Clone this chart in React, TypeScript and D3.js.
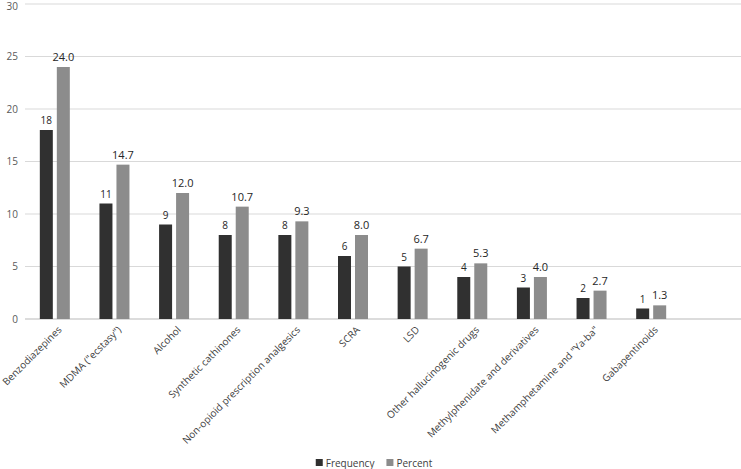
import {useEffect, useRef} from "react";
import * as d3 from "d3";

const categories = [
    "Benzodiazepines", "MDMA (\"ecstasy\")", "Alcohol", "Synthetic cathinones",
    "Non-opioid prescription analgesics", "SCRA", "LSD", "Other hallucinogenic drugs",
    "Methylphenidate and derivatives", "Methamphetamine and \"Ya-ba\"", "Gabapentinoids"
];
const frequency = [18, 11, 9, 8, 8, 6, 5, 4, 3, 2, 1];
const percent = [24.0, 14.7, 12.0, 10.7, 9.3, 8.0, 6.7, 5.3, 4.0, 2.7, 1.3];
const yTicks = [0, 5, 10, 15, 20, 25, 30];
const seriesNames = ["Frequency", "Percent"];
const colors = ["#303030", "#8c8c8c"];

export default function App() {
    const svgRef = useRef<SVGSVGElement>(null);

    useEffect(() => {
        if (!svgRef.current) return;
        const svg = d3.select(svgRef.current);
        svg.selectAll("*").remove();

        const width = 741;
        const font = "'Open Sans', sans-serif";

        const x = d3.scaleBand<string>()
            .domain(categories)
            .range([25, 681])
            .paddingInner(0)
            .paddingOuter(0);
        const y = d3.scaleLinear().domain([0, 30]).range([319, 4]);

        // gridlines
        svg.append("g")
            .selectAll("line")
            .data(yTicks)
            .join("line")
            .attr("x1", 25)
            .attr("x2", width)
            .attr("y1", d => y(d))
            .attr("y2", d => y(d))
            .attr("stroke", d => d === 0 ? "#d0d0d0" : "#d9d9d9")
            .attr("stroke-width", d => d === 0 ? 1.5 : 1);

        // y labels
        svg.append("g")
            .selectAll("text")
            .data(yTicks)
            .join("text")
            .attr("x", 18)
            .attr("y", d => Math.max(y(d), 6))
            .attr("dy", "0.35em")
            .attr("text-anchor", "end")
            .style("font-family", font)
            .style("font-size", "10px")
            .style("fill", "#595959")
            .text(d => d);

        const barW = 13;
        const gap = 4;
        const series = [frequency, percent];

        series.forEach((vals, s) => {
            const g = svg.append("g");
            const xOf = (i: number) => {
                const c = x(categories[i])! + x.bandwidth() / 2;
                return s === 0 ? c - gap / 2 - barW : c + gap / 2;
            };
            g.selectAll("rect")
                .data(vals)
                .join("rect")
                .attr("x", (d, i) => xOf(i))
                .attr("y", d => y(d))
                .attr("width", barW)
                .attr("height", d => y(0) - y(d))
                .attr("fill", colors[s]);
            g.selectAll("text")
                .data(vals)
                .join("text")
                .attr("x", (d, i) => xOf(i) + barW / 2)
                .attr("y", d => y(d) - 6)
                .attr("text-anchor", "middle")
                .style("font-family", font)
                .style("font-size", s === 0 ? "10px" : "11px")
                .style("fill", "#262626")
                .text(d => s === 0 ? d3.format("d")(d) : d3.format(".1f")(d));
        });

        // x labels
        svg.append("g")
            .selectAll("text")
            .data(categories)
            .join("text")
            .attr("transform", d => `translate(${x(d)! + x.bandwidth() / 2 + 5},${328}) rotate(-45)`)
            .attr("text-anchor", "end")
            .attr("dy", "0.35em")
            .style("font-family", font)
            .style("font-size", "10px")
            .style("fill", "#404040")
            .text(d => d);

        // legend, centered under the plot
        const legend = svg.append("g");
        let cursor = 0;
        seriesNames.forEach((name, i) => {
            legend.append("rect")
                .attr("x", cursor)
                .attr("y", 459)
                .attr("width", 7)
                .attr("height", 7)
                .attr("fill", colors[i]);
            const t = legend.append("text")
                .attr("x", cursor + 10)
                .attr("y", 463)
                .attr("dy", "0.35em")
                .style("font-family", font)
                .style("font-size", "10px")
                .style("fill", "#404040")
                .text(name);
            const w = (t.node() as SVGTextElement).getComputedTextLength();
            cursor += 10 + w + 12;
        });
        const total = cursor - 12;
        legend.attr("transform", `translate(${374 - total / 2},0)`);
    }, []);

    return (
        <svg ref={svgRef} width={741} height={469}
             style={{position: "absolute", left: 0, top: 0, background: "#fff"}}></svg>
    );
}
